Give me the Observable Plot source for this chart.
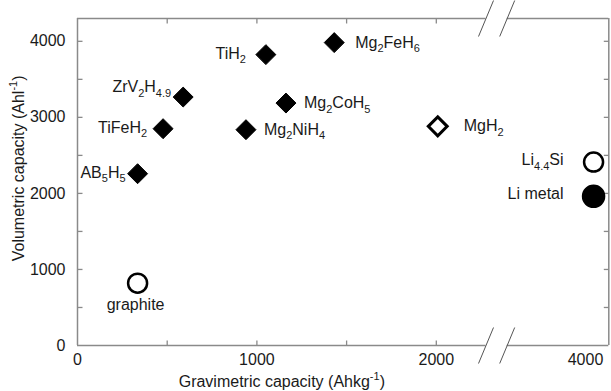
<!DOCTYPE html>
<html><head><meta charset="utf-8">
<script src="https://cdn.jsdelivr.net/npm/d3@7"></script>
<script src="https://cdn.jsdelivr.net/npm/@observablehq/plot@0.6"></script>
<style>html,body{margin:0;padding:0;background:#fff}</style>
</head><body><div id="chart"></div>
<script>
// ---- data ----
const materials   = ["TiH_{2}", "Mg_{2}FeH_{6}", "ZrV_{2}H_{4.9}", "Mg_{2}CoH_{5}", "TiFeH_{2}", "Mg_{2}NiH_{4}", "AB_{5}H_{5}", "MgH_{2}", "graphite", "Li_{4.4}Si", "Li metal"];
const gravimetric = [1050, 1431, 589, 1162, 477, 939, 335, 2008, 335, 4045, 4045];
const volumetric  = [3825, 3983, 3267, 3188, 2851, 2838, 2259, 2882, 820, 2412, 1961];
const markerKind  = ["filledDiamond", "filledDiamond", "filledDiamond", "filledDiamond", "filledDiamond", "filledDiamond", "filledDiamond", "openDiamond", "openCircle", "openCircle", "filledCircle"];

const xTickLabels = [0, 1000, 2000, 4000];
const yTickLabels = [0, 1000, 2000, 3000, 4000];
const xMinorTicks = [500, 1000, 1500, 2000];
const yMinorTicks = [500, 1000, 1500, 2000, 2500, 3000, 3500, 4000];
const xBreak      = [2277, 3563];       // axis break: left segment ends, right segment starts
const xMax        = 4130;
const yMax        = 4300;
const xTitle      = "Gravimetric capacity (Ahkg^{-1})";
const yTitle      = "Volumetric capacity (Ahl^{-1})";

// ---- layout / styling (not data) ----
const labelPlacement = {
  "TiH_{2}":        {dx: -20, dy: -1, anchor: "end"},
  "Mg_{2}FeH_{6}":  {dx: 21,  dy: 0,  anchor: "start"},
  "ZrV_{2}H_{4.9}": {dx: -12, dy: -10, anchor: "end"},
  "Mg_{2}CoH_{5}":  {dx: 18,  dy: 0,  anchor: "start"},
  "TiFeH_{2}":      {dx: -16, dy: -1, anchor: "end"},
  "Mg_{2}NiH_{4}":  {dx: 18,  dy: 0,  anchor: "start"},
  "AB_{5}H_{5}":    {dx: -12, dy: -1, anchor: "end"},
  "MgH_{2}":        {dx: 26,  dy: 0,  anchor: "start"},
  "graphite":       {dx: -2,  dy: 22, anchor: "middle"},
  "Li_{4.4}Si":     {dx: -30, dy: -2, anchor: "end"},
  "Li metal":       {dx: -30, dy: -2, anchor: "end"}
};

const table = materials.map((name, i) => ({
  name, x: gravimetric[i], y: volumetric[i], kind: markerKind[i]
}));
const ofKind = k => table.filter(d => d.kind === k);

const frameColor = "#8a8a8a";
const textColor = "#1a1a1a";
const tickLen = 5;
const sym = (x1, y1, x2, y2) => ({draw(c) { c.moveTo(x1, y1); c.lineTo(x2, y2); }});
const tickUp = sym(0, 0, 0, -tickLen), tickDown = sym(0, 0, 0, tickLen);
const tickRight = sym(0, 0, tickLen, 0), tickLeft = sym(0, 0, -tickLen, 0);
const slash = sym(-7.5, 18, 7.5, -18);

const mLeft = 77, mRightX = 608.3, mTopY = 18, mBottomY = 345;
const breakGapL = 485.5, breakGapR = 506.7;

const breakPts = xBreak.flatMap(x => [{x, y: 0}, {x, y: yMax}]);

const chart = Plot.plot({
  width: 611, height: 391,
  marginLeft: mLeft, marginRight: 611 - mRightX, marginTop: mTopY, marginBottom: 391 - mBottomY,
  style: {fontFamily: "'Liberation Sans', Arial, sans-serif", fontSize: "16px", color: textColor, background: "#fff"},
  x: {type: "linear", domain: [0, xBreak[0], xBreak[1], xMax], range: [mLeft, breakGapL, breakGapR, mRightX], axis: null},
  y: {type: "linear", domain: [0, yMax], range: [mBottomY, mTopY], axis: null},
  marks: [
    // frame with axis break
    Plot.ruleY([0, yMax], {x1: 0, x2: xBreak[0], stroke: frameColor, strokeWidth: 1.5}),
    Plot.ruleY([0, yMax], {x1: xBreak[1], x2: xMax, stroke: frameColor, strokeWidth: 1.5}),
    Plot.ruleX([0, xMax], {y1: 0, y2: yMax, stroke: frameColor, strokeWidth: 1.5}),
    // inward ticks
    Plot.dot(xMinorTicks, {x: d => d, y: 0, symbol: tickUp, stroke: frameColor, strokeWidth: 1.3, fill: "none"}),
    Plot.dot(xMinorTicks, {x: d => d, y: yMax, symbol: tickDown, stroke: frameColor, strokeWidth: 1.3, fill: "none"}),
    Plot.dot(yMinorTicks, {x: 0, y: d => d, symbol: tickRight, stroke: frameColor, strokeWidth: 1.3, fill: "none"}),
    Plot.dot(yMinorTicks, {x: xMax, y: d => d, symbol: tickLeft, stroke: frameColor, strokeWidth: 1.3, fill: "none"}),
    // break slashes
    Plot.dot(breakPts, {x: "x", y: "y", symbol: slash, stroke: "#555", strokeWidth: 1, fill: "none"}),
    // tick labels
    Plot.text(xTickLabels, {x: d => d, y: 0, dy: 14, text: d => String(d), fill: textColor, fontSize: 16}),
    Plot.text(yTickLabels, {x: 0, y: d => d, dx: -12, text: d => String(d), textAnchor: "end", fill: textColor, fontSize: 16}),
    // axis titles
    Plot.text([xTitle], {x: 1139, y: 0, dy: 36, text: d => d, fill: textColor, fontSize: 16}),
    Plot.text([yTitle], {x: 0, y: 2329, dx: -59, rotate: -90, text: d => d, fill: textColor, fontSize: 16}),
    // markers
    Plot.dot(ofKind("filledDiamond"), {x: "x", y: "y", symbol: "diamond2", r: 9, fill: "#000", stroke: "#000", strokeWidth: 1}),
    Plot.dot(ofKind("openDiamond"), {x: "x", y: "y", symbol: "diamond2", r: 8.5, fill: "#fff", stroke: "#000", strokeWidth: 3}),
    Plot.dot(ofKind("openCircle"), {x: "x", y: "y", r: 9.5, fill: "#fff", stroke: "#000", strokeWidth: 2.5}),
    Plot.dot(ofKind("filledCircle"), {x: "x", y: "y", r: 11, fill: "#000", stroke: "#000"}),
    // point labels (one mark per label so each gets its own offset)
    ...table.map(d => {
      const p = labelPlacement[d.name];
      return Plot.text([d], {x: "x", y: "y", text: "name", dx: p.dx, dy: p.dy, textAnchor: p.anchor, fill: textColor, fontSize: 16});
    })
  ]
});

document.getElementById("chart").appendChild(chart);

// Rich text: turn _{..} into subscripts and ^{..} into superscripts
function richify(el) {
  const s = el.textContent;
  if (!/[_^]\{/.test(s)) return;
  el.textContent = "";
  const re = /([_^])\{([^}]*)\}|([^_^]+)/g;
  let m, shift = 0;
  while ((m = re.exec(s))) {
    const t = document.createElementNS("http://www.w3.org/2000/svg", "tspan");
    if (m[3] !== undefined) {
      t.textContent = m[3];
      if (shift) t.setAttribute("dy", -shift);
      shift = 0;
    } else {
      const target = m[1] === "_" ? 4.5 : -6.5;
      t.textContent = m[2];
      t.setAttribute("font-size", 11);
      t.setAttribute("dy", target - shift);
      shift = target;
    }
    el.appendChild(t);
  }
}
d3.select(chart).selectAll("text").each(function() { richify(this); });
</script>
</body></html>
